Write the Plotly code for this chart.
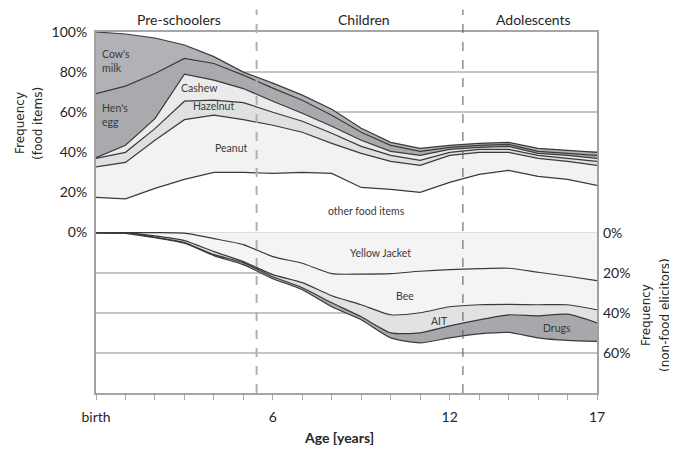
import plotly.graph_objects as go

# ---------------- data ----------------
ages = list(range(0, 18))

# food items (share of cases, %), stacked upward from 0
other_food = [17.5, 16.8, 22, 26.5, 30, 30, 29.5, 30, 29.5, 22.5, 21.5, 20, 25, 29, 31, 28, 26.5, 23.5]
peanut     = [15.2, 18.2, 24, 29.8, 28.5, 26.3, 24, 20, 15, 17, 14, 13.5, 13.5, 11, 9, 9, 9, 10]
hazelnut   = [4.3, 5, 5.8, 9.2, 7.5, 8.5, 6.5, 5.5, 5, 3.5, 3, 2.5, 1.5, 1.5, 1.5, 1.5, 1.5, 2]
cashew     = [0.3, 3.5, 5, 13.5, 10, 7, 5.5, 4, 3.5, 3, 2, 2.5, 1.5, 1, 1.5, 1, 1.5, 1.5]
hens_egg   = [32, 29.5, 22.5, 7.8, 8.3, 6.7, 6.5, 6.5, 5.5, 4, 3, 2, 1, 1, 1, 1, 1, 1.5]
cows_milk  = [30.7, 26, 17.7, 6.7, 3.4, 1.5, 2.5, 2.5, 3, 2, 1.5, 1.5, 1, 1, 1, 1.5, 1.5, 1.5]

# non-food elicitors (share of cases, %), stacked downward from 0
yellow_jacket = [0, 0, 0, 0.3, 3, 6, 12, 15.3, 20.5, 20.7, 20.5, 19.3, 18.5, 18, 17.8, 19.8, 21.8, 24]
bee           = [0, 0.2, 1.7, 3.7, 6.5, 8.5, 9, 9.7, 11, 15.3, 20.5, 20.7, 18.5, 18, 18, 16.2, 14.2, 14.5]
ait           = [0, 0.1, 0.6, 1, 1.5, 0.5, 1, 2.5, 3.5, 6, 9, 10, 9.5, 7.5, 5.2, 5.5, 4.7, 6.5]
drugs         = [0, 0.1, 0.3, 0.3, 0.5, 1, 1, 1, 2, 1.5, 2.5, 5, 6, 7, 8.8, 11, 13.1, 9.3]

x_tick_vals = list(range(0, 18))
x_tick_text = ["birth", "", "", "", "", "", "6", "", "", "", "", "", "12", "", "", "", "", "17"]
left_tick_vals = [-60, -40, -20, 0, 20, 40, 60, 80, 100]
left_tick_text = ["", "", "", "0%", "20%", "40%", "60%", "80%", "100%"]
right_tick_vals = [0, -20, -40, -60]
right_tick_text = ["0%", "20%", "40%", "60%"]

phase_bounds = [5.45, 12.45]
phase_names = ["Pre-schoolers", "Children", "Adolescents"]
phase_label_x = [2.82, 9.1, 14.84]

FONT = "Lato, 'Open Sans', sans-serif"
TFONT = "'DejaVu Sans', sans-serif"
TXT = "#262626"
LINE = "#3a3a3a"

fig = go.Figure()

food_layers = [
    ("other food items", other_food, "#ffffff"),
    ("Peanut", peanut, "#f2f2f2"),
    ("Hazelnut", hazelnut, "#e0e0e0"),
    ("Cashew", cashew, "#ebebeb"),
    ("Hen's egg", hens_egg, "#aaaaae"),
    ("Cow's milk", cows_milk, "#b2b2b6"),
]
for name, vals, col in food_layers:
    fig.add_trace(go.Scatter(
        x=ages, y=vals, name=name, stackgroup="food", mode="lines",
        line=dict(color=LINE, width=1.2), fillcolor=col, hoverinfo="skip",
    ))

nonfood_layers = [
    ("Yellow Jacket", yellow_jacket, "#f4f4f4"),
    ("Bee", bee, "#f4f4f4"),
    ("AIT", ait, "#e2e2e2"),
    ("Drugs", drugs, "#a8a8ac"),
]
for name, vals, col in nonfood_layers:
    fig.add_trace(go.Scatter(
        x=ages, y=[-v for v in vals], name=name, stackgroup="nonfood", mode="lines",
        line=dict(color=LINE, width=1.2, shape="spline", smoothing=0.6),
        fillcolor=col, hoverinfo="skip",
    ))

# phase separators
fig.add_shape(type="line", xref="x", yref="paper", x0=phase_bounds[0], x1=phase_bounds[0],
              y0=0, y1=1.062, line=dict(color="#b0b0b0", width=2, dash="dash"), layer="above")
fig.add_shape(type="line", xref="x", yref="paper", x0=phase_bounds[1], x1=phase_bounds[1],
              y0=0, y1=1.062, line=dict(color="#555555", width=1, dash="dash"), layer="above")

ann = []
for name, xp in zip(phase_names, phase_label_x):
    ann.append(dict(x=xp, y=1.035, xref="x", yref="paper", text=name, showarrow=False,
                    font=dict(size=14, color=TXT, family=FONT), xanchor="center", yanchor="middle"))

# right-hand tick labels
for v, t in zip(right_tick_vals, right_tick_text):
    ann.append(dict(x=1, y=v, xref="paper", yref="y", text=t, showarrow=False, xshift=4,
                    font=dict(size=14, color=TXT, family=FONT), xanchor="left", yanchor="middle"))

# series labels
small = dict(size=10.5, color="#3a3a3a", family=FONT)
labels = [
    ("Cow's", 0.12, 88.8, "left"), ("milk", 0.12, 82.2, "left"),
    ("Hen's", 0.12, 62.2, "left"), ("egg", 0.12, 55.2, "left"),
    ("Cashew", 3.5, 72.3, "center"), ("Hazelnut", 3.98, 63.3, "center"),
    ("Peanut", 4.59, 42.3, "center"), ("other food items", 9.18, 10.8, "center"),
    ("Yellow Jacket", 9.66, -10.3, "center"), ("Bee", 10.47, -31.8, "center"),
    ("AIT", 11.66, -44.3, "center"), ("Drugs", 15.64, -47.8, "center"),
]
for t, xv, yv, xa in labels:
    ann.append(dict(x=xv, y=yv, xref="x", yref="y", text=t, showarrow=False,
                    font=small, xanchor=xa, yanchor="middle"))

# axis titles (one annotation per line, rotated)
title_font = dict(size=12, color=TXT, family=TFONT)
for t, xp, yp in [("Frequency", -0.1517, 0.748), ("(food items)", -0.1158, 0.748),
                  ("Frequency", 1.0978, 0.216), ("(non-food elicitors)", 1.1357, 0.216)]:
    ann.append(dict(x=xp, y=yp, xref="paper", yref="paper", text=t, showarrow=False,
                    textangle=-90, font=title_font, xanchor="center", yanchor="middle"))
ann.append(dict(x=0.485, y=-0.122, xref="paper", yref="paper", text="<b>Age [years]</b>",
                showarrow=False, font=dict(size=14, color=TXT, family=FONT),
                xanchor="center", yanchor="middle"))

# page body has an 8px margin, so the figure is made 8px smaller and offset accordingly
fig.update_layout(
    width=669, height=443,
    margin=dict(l=88, r=80, t=24, b=58),
    paper_bgcolor="white", plot_bgcolor="white",
    showlegend=False,
    font=dict(family=FONT, size=14, color=TXT),
    annotations=ann,
    xaxis=dict(range=[0, 17], tickvals=x_tick_vals, ticktext=x_tick_text,
               ticks="outside", ticklen=5, tickcolor="#a6a6a6", tickwidth=1,
               showgrid=False, zeroline=False, showline=True, linecolor="#a6a6a6",
               linewidth=2, mirror=True, ticklabelstandoff=5,
               tickfont=dict(size=14, color=TXT, family=FONT)),
    yaxis=dict(range=[-80, 100], tickvals=left_tick_vals, ticktext=left_tick_text,
               showgrid=True, gridcolor="#c4c4c4", gridwidth=2,
               zeroline=True, zerolinecolor="#8c8c8c", zerolinewidth=2,
               showline=True, linecolor="#a0a0a0", linewidth=2, mirror=True,
               ticks="", ticklabelstandoff=4,
               tickfont=dict(size=14, color=TXT, family=FONT)),
)

fig.write_html("out.html")
